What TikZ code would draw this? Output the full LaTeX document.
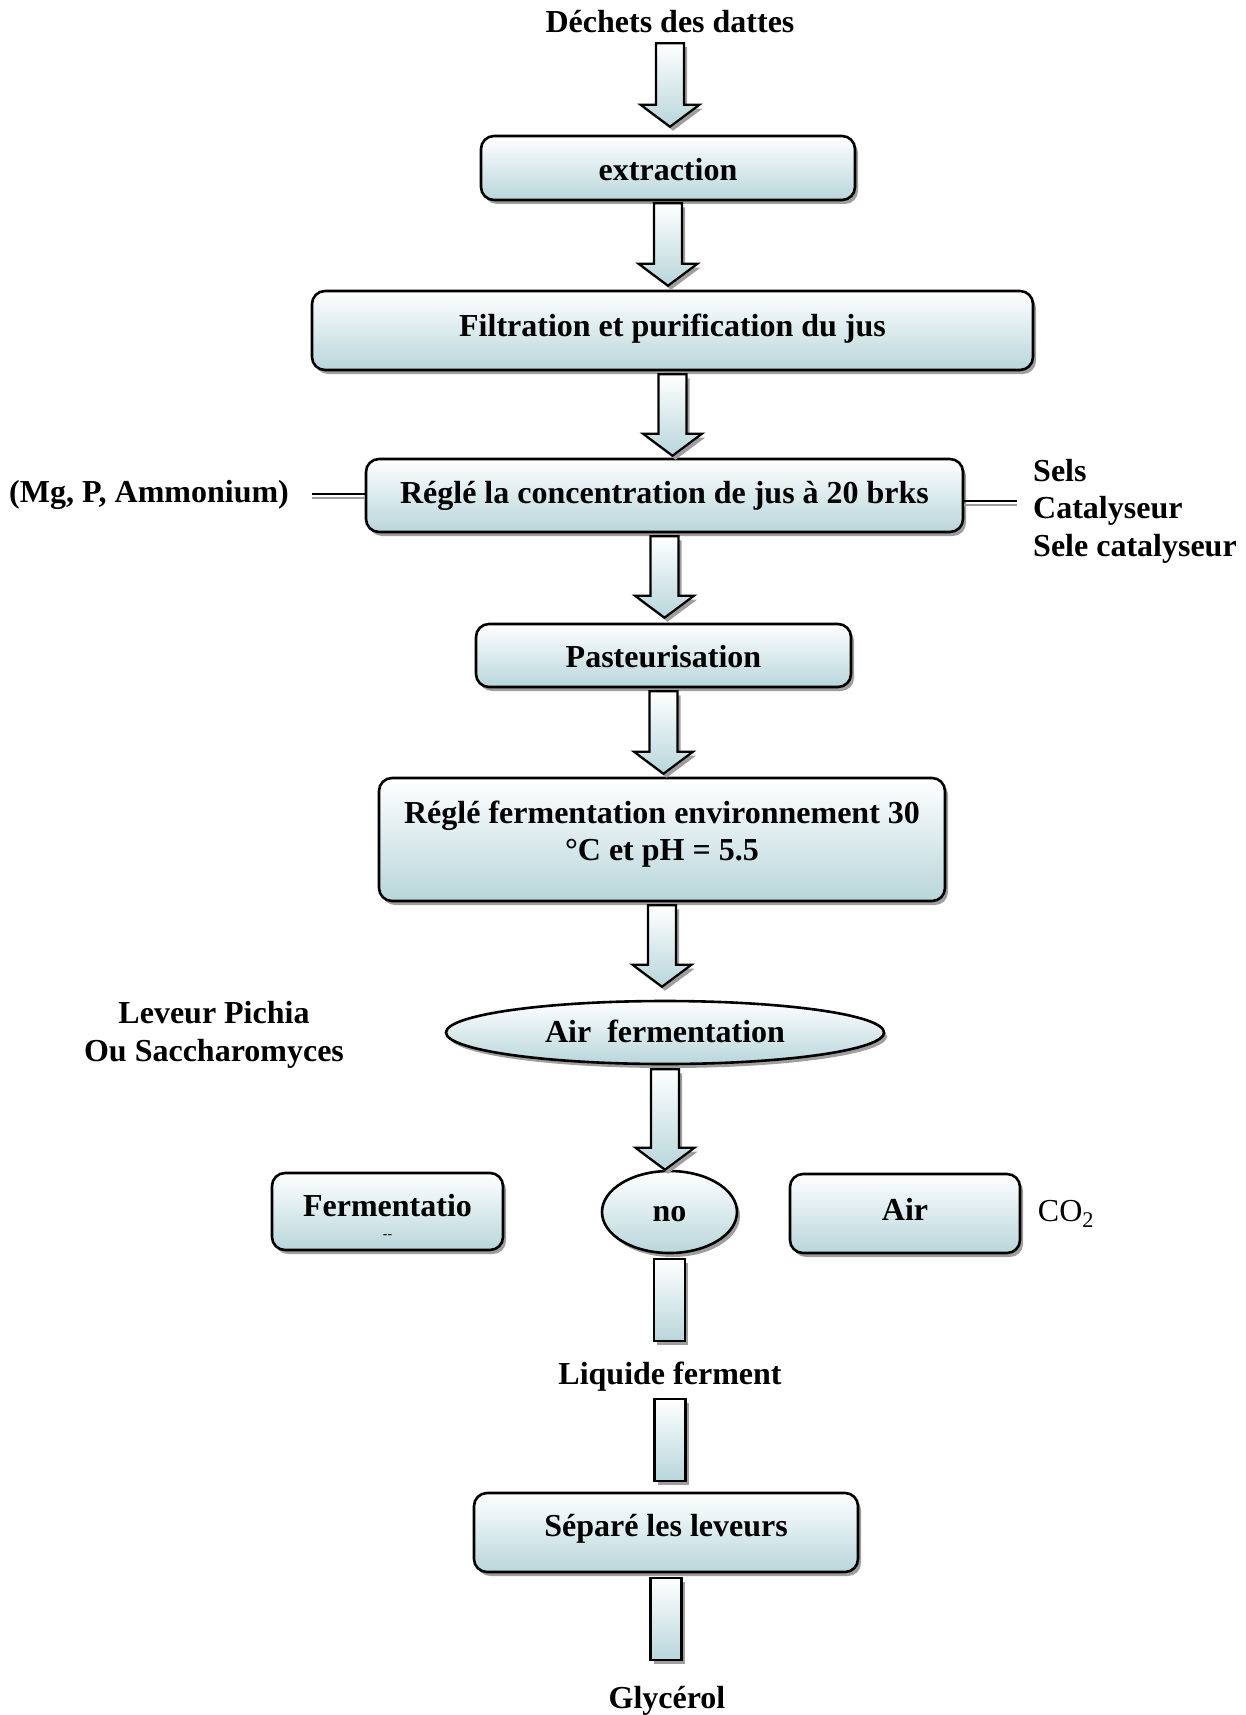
\documentclass[tikz,border=0pt]{standalone}
\usepackage{fontspec}
\setmainfont{Liberation Serif}
\usetikzlibrary{shapes.geometric,shadows,calc}
\definecolor{boxblue}{RGB}{184,214,219}
\definecolor{shgray}{RGB}{158,158,158}
\tikzset{
  bigfont/.style={font=\bfseries\fontsize{32}{37.5}\selectfont},
  myshadow/.style={drop shadow={shadow xshift=3pt, shadow yshift=-4pt, fill=shgray, opacity=1}},
  stepbox/.style={draw=black, line width=2.6pt, rounded corners=13pt, top color=white, bottom color=boxblue, myshadow, bigfont, inner sep=0pt, align=center, text height=24pt, text depth=8pt},
  ovalbox/.style={ellipse, draw=black, line width=2.6pt, top color=white, bottom color=boxblue, myshadow, bigfont, inner sep=0pt, text height=24pt, text depth=8pt},
  lbl/.style={bigfont, inner sep=0pt, text height=22pt, text depth=7pt, align=center},
  shapeline/.style={draw=black, line width=2.2pt, top color=white, bottom color=boxblue},
  sideline/.style={draw=black, line width=2.2pt},
  sideshadow/.style={draw=shgray, line width=2.2pt},
}
\newcommand\arrowpath[3]{(#1-14pt,#2) -- (#1+14pt,#2) -- (#1+14pt,#3+22pt) -- (#1+29.5pt,#3+22pt) -- (#1,#3) -- (#1-29.5pt,#3+22pt) -- (#1-14pt,#3+22pt) -- cycle}
\newcommand\barpath[3]{(#1-15.5pt,#2) rectangle (#1+15.5pt,#3)}
% block arrow: from, to, top gap, bottom gap
\newcommand\blockarrow[4]{%
  \path let \p1=($(#1.south)+(3pt,-4pt)$), \p2=($(#2.north)+(3pt,-4pt)$) in [fill=shgray] \arrowpath{\x1}{\y1-#3pt}{\y2+#4pt};
  \path let \p1=(#1.south), \p2=(#2.north) in [shapeline] \arrowpath{\x1}{\y1-#3pt}{\y2+#4pt};
}
\newcommand\shaftbar[4]{%
  \path let \p1=($(#1.south)+(3pt,-4pt)$), \p2=($(#2.north)+(3pt,-4pt)$) in [fill=shgray] \barpath{\x1}{\y1-#3pt}{\y2+#4pt};
  \path let \p1=(#1.south), \p2=(#2.north) in [shapeline] \barpath{\x1}{\y1-#3pt}{\y2+#4pt};
}
\begin{document}
\begin{tikzpicture}[x=1pt,y=-1pt]
\useasboundingbox (0,0) rectangle (1246,1715);

% labels
\node[lbl] (dechets) at (670,25) {Déchets des dattes};
\node[lbl] (liquide) at (670,1377) {Liquide ferment};
\node[lbl] (glycerol) at (667,1701) {Glycérol};
\node[lbl, anchor=west] (mg) at (9,495) {(Mg, P, Ammonium)};
\node[bigfont, inner sep=0pt, align=left, anchor=west] (sels) at (1033,511) {Sels\\Catalyseur\\Sele catalyseur};
\node[bigfont, inner sep=0pt, align=center] (leveur) at (214,1035) {Leveur Pichia\\Ou Saccharomyces};
\node[font=\fontsize{32}{37.5}\selectfont, inner sep=0pt] (co2) at (1066,1214) {CO\textsubscript{2}};

% boxes
\node[stepbox, minimum width=374pt, minimum height=64pt] (extr) at (668,168) {\raisebox{-5pt}{extraction}};
\node[stepbox, minimum width=721pt, minimum height=79pt] (filt) at (672.5,330.5) {\raisebox{1.7pt}{Filtration et purification du jus}};
\node[stepbox, minimum width=597pt, minimum height=73pt] (regle) at (664.5,495.5) {Réglé la concentration de jus à 20 brks};
\node[stepbox, minimum width=375pt, minimum height=63pt] (past) at (663.5,655.5) {\raisebox{-4pt}{Pasteurisation}};
\node[stepbox, minimum width=566pt, minimum height=123pt] (fenv) at (662,839.5) {};
\node[bigfont, inner sep=0pt, align=center] (fenvtxt) at (662,834) {Réglé fermentation environnement 30\\°C et pH = 5.5};
\node[ovalbox, minimum width=438pt, minimum height=63pt] (airf) at (665,1032.5) {\raisebox{-2pt}{Air~ fermentation}};
\node[ovalbox, minimum width=135pt, minimum height=82pt] (no) at (669.5,1212) {\raisebox{-1.7pt}{no}};
\node[stepbox, minimum width=231pt, minimum height=77pt] (fermbox) at (387.5,1211.5) {\raisebox{3.3pt}{Fermentatio}};
\node[font=\fontsize{14}{14}\selectfont, inner sep=0pt] (fermdash) at (387.5,1237) {-{}-};
\node[stepbox, minimum width=230pt, minimum height=79pt] (airbox) at (905,1213.5) {\raisebox{0.8pt}{Air}};
\node[stepbox, minimum width=384pt, minimum height=79pt] (separe) at (666,1532.5) {\raisebox{4.4pt}{Séparé les leveurs}};

% block arrows
\blockarrow{dechets}{extr}{3.5}{8}
\blockarrow{extr}{filt}{2}{4}
\blockarrow{filt}{regle}{3}{2}
\blockarrow{regle}{past}{3}{5}
\blockarrow{past}{fenv}{3}{3}
\blockarrow{fenv}{airf}{3}{13}
\blockarrow{airf}{no}{4}{0}

% bars
\shaftbar{no}{liquide}{5}{21.5}
\shaftbar{liquide}{separe}{7.5}{11}
\shaftbar{separe}{glycerol}{5}{26.5}

% side lines
\coordinate (lstart) at (312,494);
\coordinate (rend) at (1017,501);
\draw[sideshadow] ($(lstart)+(0,4)$) -- ($(regle.west |- lstart)+(0,4)$);
\draw[sideline] (lstart) -- (regle.west |- lstart);
\draw[sideshadow] ($(regle.east |- rend)+(0,4)$) -- ($(rend)+(0,4)$);
\draw[sideline] (regle.east |- rend) -- (rend);
\end{tikzpicture}
\end{document}
